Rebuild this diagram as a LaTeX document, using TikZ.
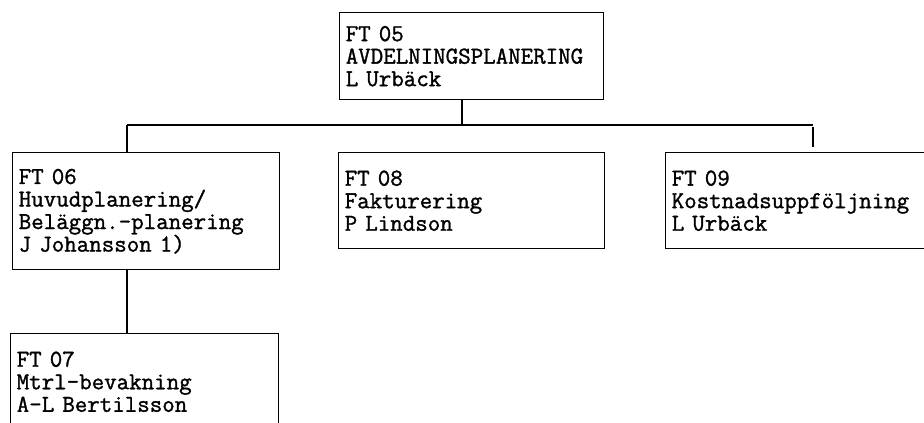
\documentclass[tikz,border=0pt]{standalone}
\usepackage{fontspec}
\newfontfamily\typew[FakeBold=1.3]{Latin Modern Mono}
\begin{document}
\begin{tikzpicture}[x=0.75pt,y=-0.75pt,line width=1.1pt,
  orgbox/.style={draw,anchor=north west,inner xsep=4.5pt,inner ysep=0pt,
    align=left,font=\typew\fontsize{18.2}{16.9}\selectfont},
  conn/.style={line width=1.1pt}]
\useasboundingbox (0,0) rectangle (924,423);
\clip (0,0) rectangle (924,423);
\node[orgbox,text width=189pt,minimum width=198pt,minimum height=65.25pt] (ft05) at (339,12)
  {FT 05\\AVDELNINGSPLANERING\\L Urbäck};
\node[orgbox,text width=191.25pt,minimum width=200.25pt,minimum height=87.75pt] (ft06) at (12,152)
  {FT 06\\Huvudplanering/\\Beläggn.-planering\\J Johansson 1)};
\node[orgbox,text width=190.5pt,minimum width=199.5pt,minimum height=72pt] (ft08) at (338,152)
  {FT 08\\Fakturering\\P Lindson};
\node[orgbox,text width=193.5pt,minimum width=202.5pt,minimum height=72pt] (ft09) at (665,152)
  {FT 09\\Kostnadsuppföljning\\L Urbäck};
\node[orgbox,text width=192pt,minimum width=201pt,minimum height=72pt] (ft07) at (10,333)
  {FT 07\\Mtrl-bevakning\\A-L Bertilsson};
\coordinate (top) at (462,125);
\coordinate (left) at (127,125);
\coordinate (right) at (813,125);
\coordinate (stubtop) at (813,127);
\coordinate (stubbot) at (813,147);
\draw[conn] (ft05.south -| top) -- (top);
\draw[conn] (left) -- (right);
\draw[conn] (left) -- (left |- ft06.north);
\draw[conn] (stubtop) -- (stubbot);
\draw[conn] (ft06.south -| left) -- (ft07.north -| left);
\end{tikzpicture}
\end{document}
